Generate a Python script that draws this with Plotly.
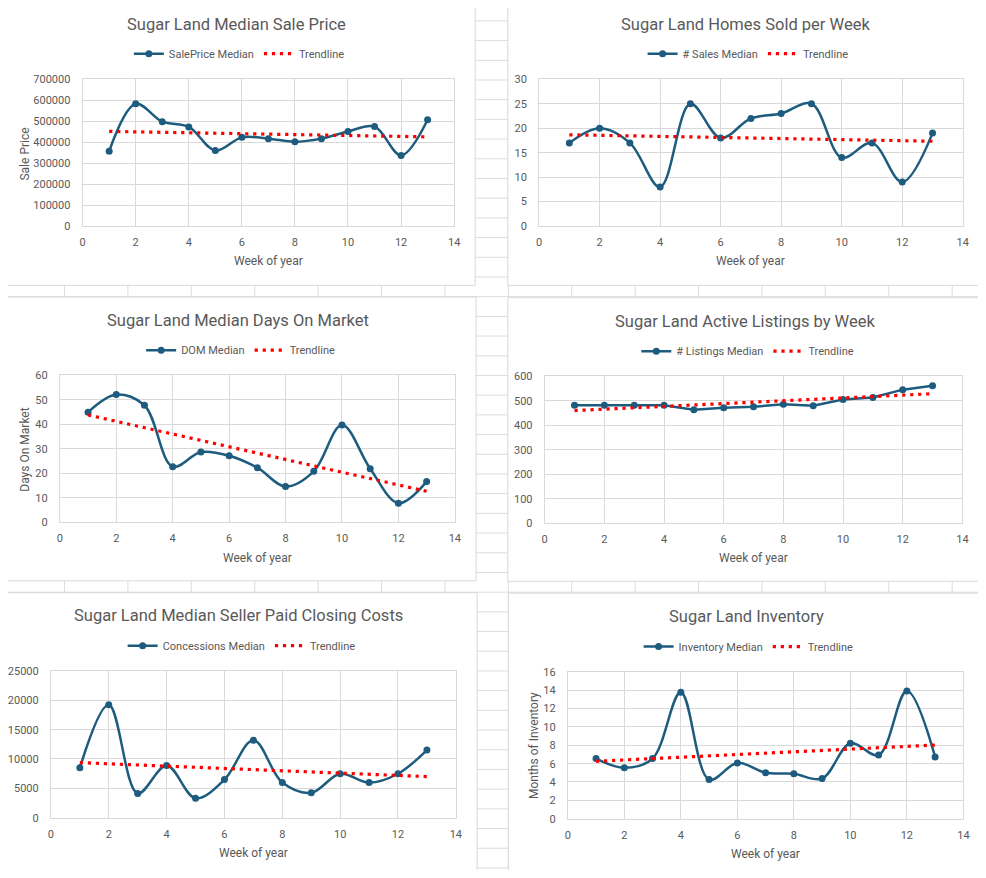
import numpy as np
import plotly.graph_objects as go

# ---------------- data ----------------
weeks = list(range(1, 14))
sale_price = [357000, 583000, 498000, 473000, 360000, 423000, 417000,
              402000, 417000, 451000, 475000, 337000, 507000]
homes_sold = [17, 20, 17, 8, 25, 18, 22, 23, 25, 14, 17, 9, 19]
days_on_market = [45.0, 52.2, 47.8, 22.7, 28.7, 27.2, 22.3, 14.6, 20.8,
                  39.7, 21.9, 7.8, 16.6]
active_listings = [482, 482, 482, 482, 464, 472, 476, 486, 480, 506, 514,
                   546, 562]
concessions = [8500, 19240, 4140, 8890, 3300, 6490, 13200, 5980, 4250,
               7490, 5980, 7490, 11520]
inventory = [6.55, 5.55, 6.55, 13.78, 4.26, 6.08, 5.01, 4.90, 4.37, 8.23,
             6.94, 13.92, 6.73]

chart_titles = ["Sugar Land Median Sale Price", "Sugar Land Homes Sold per Week",
                "Sugar Land Median Days On Market", "Sugar Land Active Listings by Week",
                "Sugar Land Median Seller Paid Closing Costs", "Sugar Land Inventory"]
series_names = ["SalePrice Median", "# Sales Median", "DOM Median",
                "# Listings Median", "Concessions Median", "Inventory Median"]
trend_name = "Trendline"
y_titles = ["Sale Price", "", "Days On Market", "", "", "Months of Inventory"]
x_title = "Week of year"
y_max = [700000, 30, 60, 600, 25000, 16]
y_step = [100000, 5, 10, 100, 5000, 2]
x_ticks = [0, 2, 4, 6, 8, 10, 12, 14]
series = [sale_price, homes_sold, days_on_market, active_listings, concessions, inventory]
smooth = [True, True, True, False, True, True]

# ---------------- layout (page pixels) ----------------
PAGE_W, PAGE_H = 986, 878
OFF = 8                      # default body margin of the page
W, H = PAGE_W - 2 * OFF, PAGE_H - 2 * OFF
FONT = "Roboto"
TXT = "#595959"
GRID = "#d9d9d9"
SHEET = "#dcdcdc"
LINE = "#1d5c7e"
RED = "#ff0000"

# plot areas: x0, x1, y0, y1
plot_px = [(80.3, 455.3, 74.3, 223.3), (541, 968.7, 74.3, 223.3),
           (57.3, 456, 375, 524), (546.7, 968.3, 376, 525),
           (48.3, 457, 675, 824), (570, 969.3, 676, 825)]
# chart boxes
panel_px = [(-20, 476.5, -20, 283.5), (509.5, 1000, -20, 283.5),
            (-20, 477.5, 295.5, 583.5), (509.5, 1000, 296, 584),
            (-20, 478.5, 595.5, 900), (510, 1000, 596, 900)]
title_px = [(236, 18.3), (749.5, 18.3), (237, 319.2), (749, 320.2), (237.7, 619.2), (750, 620.2)]
legend_px = [(238.5, 48.3), (752, 48.3), (239.8, 349.3), (751.7, 350.3), (240.8, 649.3), (752.5, 650.3)]
xtitle_y = [259, 259, 560, 560.7, 860, 860.7]
ytitle_px = [(22, 149.8), None, (22.5, 450), None, None, (535.8, 750.3)]


def px(x):
    return (x - OFF) / W


def py(y):
    return 1 - (y - OFF) / H


fig = go.Figure()
shapes = []
annotations = []

# spreadsheet gridlines
for k in range(16):
    xv = 62 + 64 * k
    shapes.append(dict(type="line", xref="paper", yref="paper", x0=px(xv), x1=px(xv),
                       y0=py(900), y1=py(-20), line=dict(color=SHEET, width=1), layer="below"))
for k in range(45):
    yv = 15 + 20 * k
    shapes.append(dict(type="line", xref="paper", yref="paper", x0=px(-20), x1=px(1000),
                       y0=py(yv), y1=py(yv), line=dict(color=SHEET, width=1), layer="below"))
# chart boxes
for (x0, x1, y0, y1) in panel_px:
    shapes.append(dict(type="rect", xref="paper", yref="paper", x0=px(x0), x1=px(x1),
                       y0=py(y1), y1=py(y0), fillcolor="white",
                       line=dict(color=GRID, width=1), layer="below"))

layout_axes = {}
for i in range(6):
    n = "" if i == 0 else str(i + 1)
    x0, x1, y0, y1 = plot_px[i]
    vals = series[i]
    fig.add_trace(go.Scatter(
        x=weeks, y=vals, name=series_names[i], mode="lines+markers",
        line=dict(color=LINE, width=2.5, shape="spline" if smooth[i] else "linear", smoothing=1),
        marker=dict(color=LINE, size=7),
        xaxis="x" + n, yaxis="y" + n, legend="legend" + n, hoverinfo="skip"))
    slope, icpt = np.polyfit(weeks, vals, 1)
    tx = [weeks[0], weeks[-1]]
    fig.add_trace(go.Scatter(
        x=tx, y=[slope * t + icpt for t in tx], name=trend_name, mode="lines",
        line=dict(color=RED, width=3.2, dash="3.2px,4.8px"),
        xaxis="x" + n, yaxis="y" + n, legend="legend" + n, hoverinfo="skip"))

    layout_axes["xaxis" + n] = dict(
        domain=[px(x0), px(x1)], anchor="y" + n, range=[0, 14], tickvals=x_ticks,
        showgrid=True, gridcolor=GRID, gridwidth=1, showline=True, mirror=True,
        linecolor=GRID, linewidth=1, zeroline=False, ticks="",
        tickfont=dict(family=FONT, size=11, color=TXT), ticklabelstandoff=6,
        fixedrange=True)
    layout_axes["yaxis" + n] = dict(
        domain=[py(y1), py(y0)], anchor="x" + n, range=[0, y_max[i]], tick0=0,
        dtick=y_step[i], tickformat="d", showgrid=True, gridcolor=GRID, gridwidth=1,
        showline=True, mirror=True, linecolor=GRID, linewidth=1, zeroline=False,
        ticks="", tickfont=dict(family=FONT, size=11, color=TXT),
        ticklabelstandoff=9, fixedrange=True)

    lx, ly = legend_px[i]
    layout_axes["legend" + n] = dict(
        orientation="h", x=px(lx), y=py(ly), xanchor="center", yanchor="middle",
        font=dict(family=FONT, size=11, color=TXT), bgcolor="rgba(0,0,0,0)",
        traceorder="normal")

    tx_, ty_ = title_px[i]
    annotations.append(dict(text=chart_titles[i], xref="paper", yref="paper",
                            x=px(tx_), y=py(ty_), xanchor="center", yanchor="middle",
                            showarrow=False, font=dict(family=FONT, size=16.5, color=TXT)))
    annotations.append(dict(text=x_title, xref="x" + n + " domain", yref="paper",
                            x=0.5, y=py(xtitle_y[i]), xanchor="center", yanchor="middle",
                            showarrow=False, font=dict(family=FONT, size=12, color=TXT)))
    if ytitle_px[i] is not None:
        ax_, ay_ = ytitle_px[i]
        annotations.append(dict(text=y_titles[i], xref="paper", yref="paper",
                                x=px(ax_), y=py(ay_), xanchor="center", yanchor="middle",
                                textangle=-90, showarrow=False,
                                font=dict(family=FONT, size=12, color=TXT)))

fig.update_layout(
    width=W, height=H, margin=dict(l=0, r=0, t=0, b=0),
    paper_bgcolor="white", plot_bgcolor="white",
    shapes=shapes, annotations=annotations, showlegend=True,
    **layout_axes)

fig.write_html("out.html", config={"displayModeBar": False})
